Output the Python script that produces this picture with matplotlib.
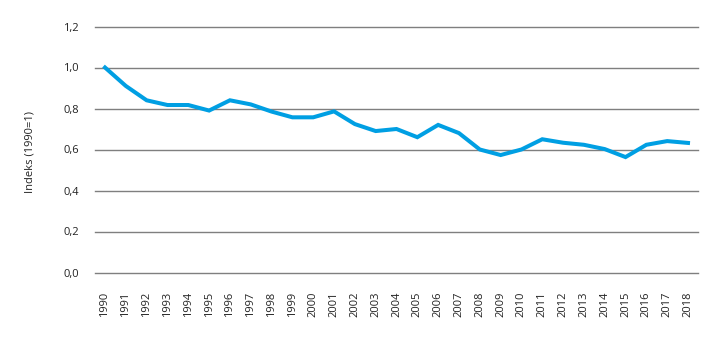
import matplotlib
matplotlib.use("Agg")
import matplotlib.pyplot as plt

years = list(range(1990, 2019))
index = [1.00, 0.91, 0.84, 0.817, 0.817, 0.79, 0.84, 0.82, 0.785, 0.757,
         0.757, 0.786, 0.724, 0.69, 0.70, 0.66, 0.72, 0.68, 0.60, 0.573,
         0.60, 0.65, 0.633, 0.623, 0.602, 0.563, 0.623, 0.641, 0.632]
yticks = [0.0, 0.2, 0.4, 0.6, 0.8, 1.0, 1.2]

BLUE, GRID = "#009fe3", "#7f7f7f"
plt.rcParams["font.family"] = ["Open Sans", "DejaVu Sans"]

fig = plt.figure(figsize=(7.23, 3.41), dpi=100)
ax = fig.add_axes([95 / 723, 1 - 272.5 / 341, 603 / 723, 246 / 341])
ax.plot(years, index, color=BLUE, lw=2.9, solid_joinstyle="miter", zorder=3)

ax.set_ylim(0, 1.2)
ax.set_xlim(1989.52, 2018.48)
ax.set_yticks(yticks)
ax.set_yticklabels([f"{v:.1f}".replace(".", ",") for v in yticks], fontsize=8, color="#222222")
ax.set_xticks(years)
ax.set_xticklabels([str(y) for y in years], rotation=90, fontsize=8, color="#222222")
ax.tick_params(length=0)
ax.tick_params(axis="y", pad=11.5)
ax.tick_params(axis="x", pad=14)
for v in yticks:
    ax.axhline(v, color=GRID, lw=1.0, zorder=1, clip_on=False)
for s in ax.spines.values():
    s.set_visible(False)
ax.set_ylabel("Indeks (1990=1)", fontsize=8, color="#222222")
ax.yaxis.set_label_coords(-0.098, 0.49)

fig.savefig("out.png", dpi=100)
